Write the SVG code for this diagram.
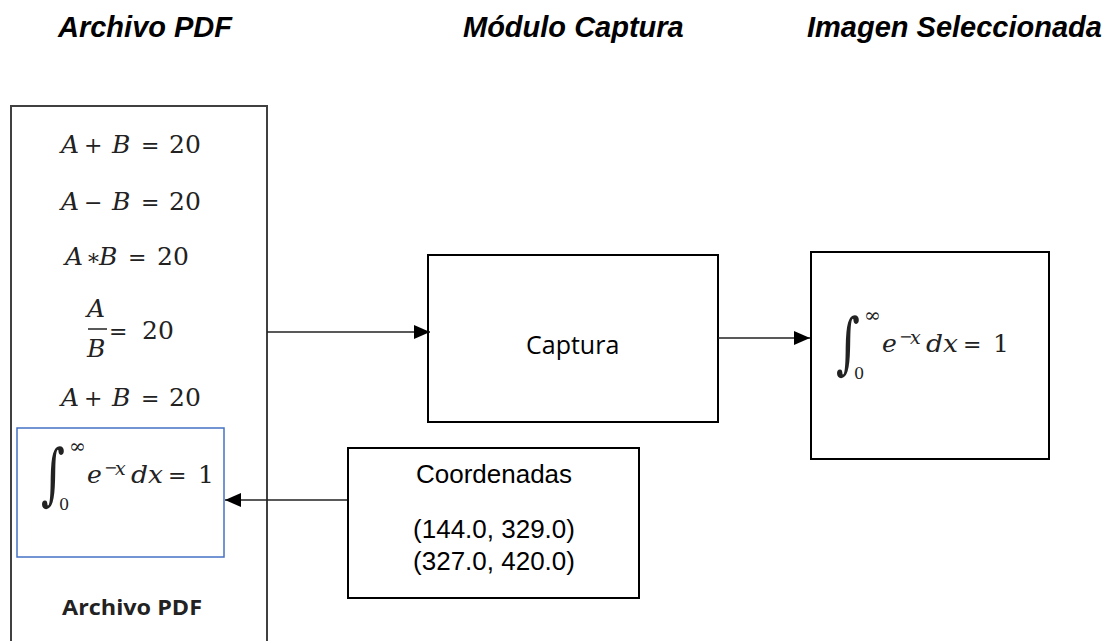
<svg xmlns="http://www.w3.org/2000/svg" width="1109" height="641" viewBox="0 0 1109 641">
<defs>
<style>
.title{font-family:"Liberation Sans",Arial,sans-serif;font-weight:bold;font-style:italic;font-size:29px;fill:#000}
.box{fill:#fff;stroke:#000;stroke-width:2}
.m{font-family:"DejaVu Serif","Liberation Serif",serif;font-size:25px;fill:#222}
.mi{font-style:italic}
.op{font-size:22px}
.lbl{font-family:"Open Sans","Noto Sans",sans-serif;font-size:25px;fill:#000}
.arial{font-family:"Liberation Sans",Arial,sans-serif;font-size:26px;fill:#000}
.conn{stroke:#222;stroke-width:1.5;fill:none}
</style>
<marker id="ah" markerWidth="16" markerHeight="14" refX="16" refY="7" orient="auto" markerUnits="userSpaceOnUse">
<path d="M0,0 L16,7 L0,14 Z" fill="#000"/>
</marker>
<g id="integral">
<text class="m" x="0" y="0" style="font-size:46px" transform="translate(41,497) scale(1,1.46)">∫</text>
<text class="m" x="69" y="453" style="font-size:20px">∞</text>
<text class="m" x="59" y="510" style="font-size:16px">0</text>
<text class="m mi" x="87" y="483">e</text>
<text class="m" x="104" y="473" style="font-size:16px">−</text>
<text class="m mi" x="115" y="475" style="font-size:19px">x</text>
<text class="m mi" x="131" y="483" textLength="32" lengthAdjust="spacingAndGlyphs">dx</text>
<text class="m op" x="168" y="483">=</text>
<text class="m" x="198" y="483">1</text>
</g>
</defs>

<text class="title" x="58" y="37">Archivo PDF</text>
<text class="title" x="463" y="37">Módulo Captura</text>
<text class="title" x="807" y="37">Imagen Seleccionada</text>

<g id="archivo-pdf">
<rect x="11" y="106" width="256" height="545" fill="#fff" stroke="#404040" stroke-width="2"/>
<text class="m"><tspan class="mi" x="61" y="153">A</tspan><tspan class="op" x="84" y="153">+</tspan><tspan class="mi" x="112" y="153">B</tspan><tspan class="op" x="141" y="153">=</tspan><tspan x="169" y="153">20</tspan></text>
<text class="m"><tspan class="mi" x="61" y="210">A</tspan><tspan class="op" x="84" y="210">−</tspan><tspan class="mi" x="112" y="210">B</tspan><tspan class="op" x="141" y="210">=</tspan><tspan x="169" y="210">20</tspan></text>
<text class="m"><tspan class="mi" x="65" y="265">A</tspan><tspan class="op" x="86" y="265">∗</tspan><tspan class="mi" x="99" y="265">B</tspan><tspan class="op" x="128" y="265">=</tspan><tspan x="157" y="265">20</tspan></text>
<text class="m"><tspan class="mi" x="87" y="317">A</tspan><tspan class="mi" x="87" y="357">B</tspan><tspan class="op" x="109" y="339">=</tspan><tspan x="142" y="339">20</tspan></text>
<line x1="88" y1="329" x2="107" y2="329" stroke="#222" stroke-width="1.5"/>
<text class="m"><tspan class="mi" x="61" y="406">A</tspan><tspan class="op" x="84" y="406">+</tspan><tspan class="mi" x="112" y="406">B</tspan><tspan class="op" x="141" y="406">=</tspan><tspan x="169" y="406">20</tspan></text>
<rect x="17" y="428" width="207" height="129" fill="none" stroke="#4472C4" stroke-width="1.5"/>
<use href="#integral"/>
<text x="62" y="615" style="font-family:'Open Sans','Noto Sans',sans-serif;font-weight:bold;font-size:22px;fill:#222" textLength="140" lengthAdjust="spacingAndGlyphs">Archivo PDF</text>
</g>

<g id="captura">
<rect class="box" x="428" y="255" width="290" height="167"/>
<text class="lbl" x="526" y="354">Captura</text>
</g>

<g id="imagen">
<rect class="box" x="811" y="252" width="238" height="207"/>
<use href="#integral" transform="translate(795,-131)"/>
</g>

<g id="coordenadas">
<rect class="box" x="348" y="448" width="291" height="150"/>
<text class="arial" x="494" y="483" text-anchor="middle">Coordenadas</text>
<text class="arial" x="494" y="538" text-anchor="middle">(144.0, 329.0)</text>
<text class="arial" x="494" y="570" text-anchor="middle">(327.0, 420.0)</text>
</g>

<g id="connectors">
<line class="conn" x1="267" y1="332" x2="430" y2="332" marker-end="url(#ah)"/>
<line class="conn" x1="718" y1="338" x2="810" y2="338" marker-end="url(#ah)"/>
<line class="conn" x1="347" y1="500" x2="225" y2="500" marker-end="url(#ah)"/>
</g>
</svg>
